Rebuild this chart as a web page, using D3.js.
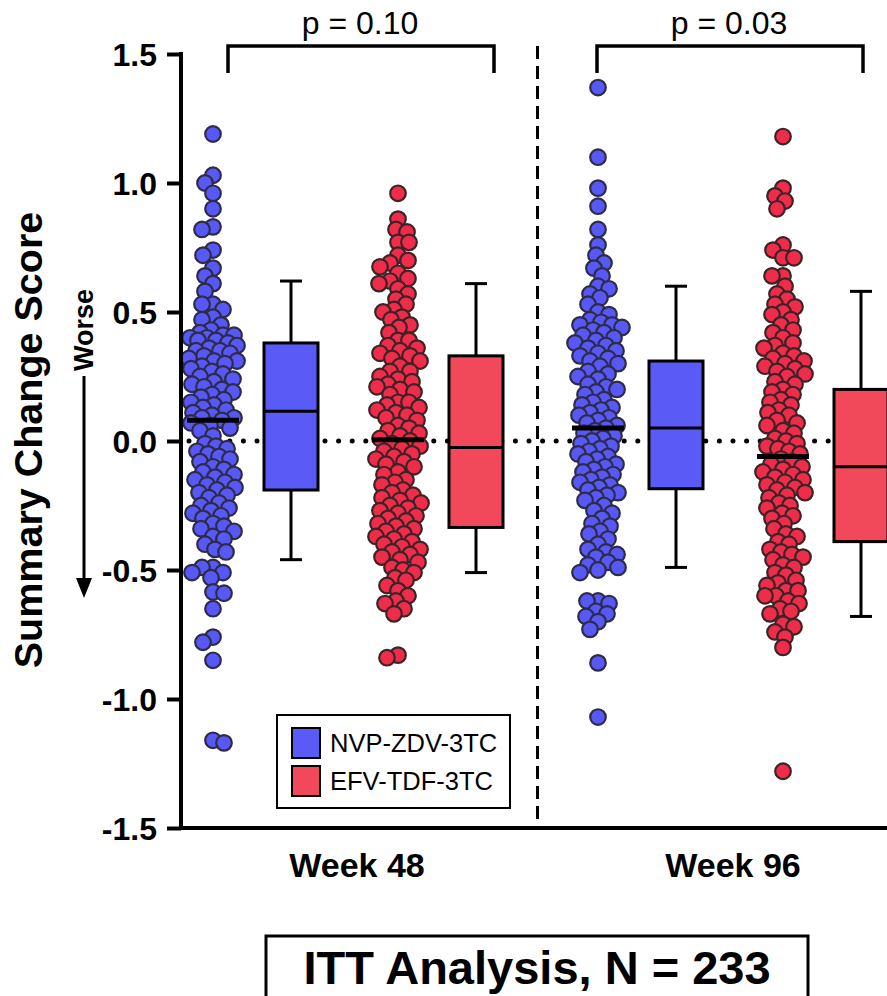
<!DOCTYPE html>
<html>
<head>
<meta charset="utf-8">
<script src="https://cdn.jsdelivr.net/npm/d3@7"></script>
<style>
  html, body { margin: 0; padding: 0; background: #fff; }
  svg { display: block; font-family: "Liberation Sans", Arial, sans-serif; }
</style>
</head>
<body>
<svg id="chart" width="887" height="996"></svg>
<script>
// Visits and treatment arms
const weeks = ["Week 48", "Week 96"];
const arms = ["NVP-ZDV-3TC", "EFV-TDF-3TC"];
const armColors = ["#5858f6", "#ef2d4b"];
const boxColors = ["#5a5af6", "#f2495a"];

// Individual summary change scores
const nvpWeek48 = [1.19, 1.03, 1.00, 0.96, 0.90, 0.83, 0.82, 0.74, 0.72, 0.67, 0.64, 0.61, 0.58, 0.53, 0.53, 0.51,
  0.48, 0.47, 0.45, 0.43, 0.42, 0.41, 0.41, 0.40, 0.40, 0.39, 0.39, 0.38, 0.37, 0.36, 0.35, 0.35, 0.34, 0.33,
  0.32, 0.31, 0.31, 0.30, 0.29, 0.28, 0.27, 0.26, 0.25, 0.24, 0.23, 0.22, 0.21, 0.20, 0.19, 0.18, 0.17, 0.16,
  0.15, 0.14, 0.13, 0.12, 0.11, 0.10, 0.09, 0.09, 0.08, 0.07, 0.06, 0.05, 0.04, 0.02, -0.01, -0.02, -0.03,
  -0.04, -0.05, -0.06, -0.07, -0.08, -0.10, -0.11, -0.12, -0.13, -0.14, -0.15, -0.16, -0.17, -0.18, -0.19,
  -0.20, -0.21, -0.22, -0.24, -0.25, -0.26, -0.27, -0.28, -0.29, -0.30, -0.32, -0.33, -0.34, -0.35, -0.37,
  -0.38, -0.40, -0.42, -0.43, -0.49, -0.49, -0.51, -0.51, -0.53, -0.585, -0.59, -0.65, -0.76, -0.78, -0.85,
  -1.16, -1.17];
const efvWeek48 = [0.96, 0.86, 0.82, 0.81, 0.77, 0.77, 0.72, 0.70, 0.69, 0.675, 0.65, 0.63, 0.62, 0.61, 0.59,
  0.57, 0.55, 0.53, 0.51, 0.50, 0.48, 0.47, 0.45, 0.44, 0.42, 0.39, 0.39, 0.37, 0.36, 0.35, 0.34, 0.33, 0.32,
  0.31, 0.29, 0.27, 0.27, 0.25, 0.24, 0.23, 0.22, 0.21, 0.20, 0.19, 0.18, 0.15, 0.15, 0.14, 0.13, 0.12, 0.11,
  0.10, 0.09, 0.08, 0.06, 0.05, 0.04, 0.03, 0.02, 0.01, 0.00, -0.01, -0.02, -0.03, -0.04, -0.05, -0.06,
  -0.07, -0.08, -0.09, -0.10, -0.12, -0.13, -0.15, -0.16, -0.17, -0.19, -0.20, -0.21, -0.22, -0.23, -0.24,
  -0.25, -0.26, -0.27, -0.28, -0.29, -0.30, -0.31, -0.32, -0.33, -0.34, -0.35, -0.36, -0.37, -0.38, -0.39,
  -0.40, -0.41, -0.42, -0.43, -0.44, -0.45, -0.46, -0.47, -0.49, -0.50, -0.51, -0.53, -0.54, -0.56, -0.58,
  -0.60, -0.62, -0.63, -0.65, -0.67, -0.83, -0.84];
const nvpWeek96 = [1.37, 1.10, 0.98, 0.91, 0.82, 0.76, 0.72, 0.69, 0.67, 0.64, 0.60, 0.59, 0.57, 0.555, 0.53,
  0.50, 0.49, 0.47, 0.46, 0.45, 0.45, 0.44, 0.43, 0.42, 0.41, 0.40, 0.39, 0.38, 0.37, 0.36, 0.35, 0.34, 0.33,
  0.32, 0.31, 0.30, 0.29, 0.27, 0.26, 0.25, 0.24, 0.22, 0.21, 0.20, 0.19, 0.18, 0.16, 0.15, 0.14, 0.13, 0.12,
  0.11, 0.10, 0.09, 0.08, 0.07, 0.06, 0.05, 0.04, 0.03, 0.02, 0.01, 0.00, -0.01, -0.02, -0.03, -0.04, -0.05,
  -0.06, -0.07, -0.08, -0.09, -0.10, -0.11, -0.12, -0.13, -0.14, -0.15, -0.16, -0.17, -0.18, -0.19, -0.20,
  -0.21, -0.22, -0.23, -0.25, -0.27, -0.28, -0.30, -0.32, -0.33, -0.35, -0.36, -0.38, -0.40, -0.42, -0.43,
  -0.44, -0.45, -0.47, -0.48, -0.49, -0.50, -0.51, -0.62, -0.62, -0.63, -0.66, -0.67, -0.68, -0.70, -0.73,
  -0.86, -1.07];
const efvWeek96 = [1.18, 0.98, 0.95, 0.93, 0.90, 0.76, 0.74, 0.71, 0.71, 0.64, 0.64, 0.60, 0.57, 0.55, 0.53,
  0.52, 0.50, 0.49, 0.47, 0.45, 0.43, 0.42, 0.40, 0.38, 0.37, 0.36, 0.34, 0.33, 0.32, 0.31, 0.30, 0.29, 0.28,
  0.27, 0.26, 0.25, 0.23, 0.22, 0.20, 0.19, 0.18, 0.16, 0.15, 0.14, 0.12, 0.11, 0.10, 0.08, 0.07, 0.06, 0.04,
  0.03, 0.01, 0.00, -0.01, -0.02, -0.03, -0.04, -0.05, -0.07, -0.08, -0.09, -0.10, -0.11, -0.12, -0.13,
  -0.14, -0.15, -0.16, -0.17, -0.18, -0.19, -0.20, -0.21, -0.22, -0.24, -0.25, -0.26, -0.28, -0.29, -0.30,
  -0.32, -0.34, -0.36, -0.37, -0.39, -0.40, -0.42, -0.43, -0.44, -0.45, -0.46, -0.48, -0.49, -0.51, -0.52,
  -0.54, -0.55, -0.56, -0.58, -0.58, -0.60, -0.60, -0.62, -0.63, -0.65, -0.66, -0.67, -0.71, -0.72, -0.74,
  -0.76, -0.80, -1.28];

// Group order: NVP wk48, EFV wk48, NVP wk96, EFV wk96
const groupValues = [nvpWeek48, efvWeek48, nvpWeek96, efvWeek96];
const scatterMedians = [0.08, 0.005, 0.05, -0.06];
const whiskerHigh = [0.62, 0.61, 0.60, 0.58];
const boxQ3 = [0.38, 0.33, 0.31, 0.20];
const boxMedian = [0.115, -0.025, 0.05, -0.10];
const boxQ1 = [-0.19, -0.335, -0.185, -0.39];
const whiskerLow = [-0.46, -0.51, -0.49, -0.68];
const pValueLabels = ["p = 0.10", "p = 0.03"];
const yTicks = [-1.5, -1.0, -0.5, 0.0, 0.5, 1.0, 1.5];

const svg = d3.select("#chart");
svg.append("rect").attr("width", 887).attr("height", 996).attr("fill", "#fff");

const plotLeft = 181, plotRight = 887, plotTop = 54, plotBottom = 828;
const y = d3.scaleLinear().domain([-1.5, 1.5]).range([plotBottom, plotTop]);

// Column placement: week -> arm -> (dots, box)
const xWeek = d3.scalePoint().domain(weeks).range([213, 598]);
const xArm = d3.scalePoint().domain(arms).range([0, 185]);
const xKind = d3.scalePoint().domain(["dots", "box"]).range([0, 78]);
const groups = [];
weeks.forEach((w, wi) => arms.forEach((a, ai) => {
  const gi = wi * 2 + ai;
  groups.push({
    week: w, arm: a, armIndex: ai, index: gi,
    values: groupValues[gi],
    dotsX: xWeek(w) + xArm(a) + xKind("dots"),
    boxX: xWeek(w) + xArm(a) + xKind("box")
  });
}));

const minusLocale = d3.formatLocale({decimal: ".", thousands: ",", grouping: [3], currency: ["", ""], minus: "-"});
const fmt = minusLocale.format(".1f");

// Zero reference line (dotted)
svg.append("line")
  .attr("x1", plotLeft + 8).attr("x2", plotRight)
  .attr("y1", y(0)).attr("y2", y(0))
  .attr("stroke", "#000").attr("stroke-width", 5)
  .attr("stroke-linecap", "round").attr("stroke-dasharray", "0 13.6");

// Divider between visits
const dividerX = (xWeek(weeks[0]) + xArm(arms[1]) + xKind("box") + xWeek(weeks[1])) / 2 + 0.5;
svg.append("line")
  .attr("x1", dividerX).attr("x2", dividerX)
  .attr("y1", 46).attr("y2", plotBottom)
  .attr("stroke", "#000").attr("stroke-width", 3)
  .attr("stroke-dasharray", "13 7");

// Beeswarm placement of the individual points
function swarm(vals, cx) {
  const sep = 10.5, maxOff = 24;
  const pts = vals.map(v => ({v, y: y(v)})).sort((a, b) => a.y - b.y);
  const placed = [];
  pts.forEach((p, i) => {
    const near = placed.filter(q => Math.abs(q.y - p.y) < sep);
    let best = cx, bestScore = -Infinity;
    outer:
    for (let k = 0; k <= maxOff; k++) {
      const offs = k === 0 ? [0] : (i % 2 ? [k, -k] : [-k, k]);
      for (const s of offs) {
        const x = cx + s;
        const dmin = near.reduce((m, q) => Math.min(m, Math.hypot(q.x - x, q.y - p.y)), Infinity);
        if (dmin >= sep) { best = x; break outer; }
        if (dmin > bestScore) { bestScore = dmin; best = x; }
      }
    }
    p.x = best;
    placed.push(p);
  });
  return placed;
}

const dotStroke = ["#2c2c48", "#3b2326"];
groups.forEach(g => {
  const pts = swarm(g.values, g.dotsX);
  svg.append("g").selectAll("circle").data(pts).join("circle")
    .attr("cx", d => d.x).attr("cy", d => d.y).attr("r", 7.8)
    .attr("fill", armColors[g.armIndex])
    .attr("stroke", dotStroke[g.armIndex]).attr("stroke-width", 2.2);
  // median bar across the points
  svg.append("line")
    .attr("x1", g.dotsX - 26).attr("x2", g.dotsX + 26)
    .attr("y1", y(scatterMedians[g.index])).attr("y2", y(scatterMedians[g.index]))
    .attr("stroke", "#000").attr("stroke-width", 5);
});

// Box plots
const boxW = 54, capW = 22;
groups.forEach(g => {
  const i = g.index, cx = g.boxX;
  const bg = svg.append("g").attr("stroke", "#000").attr("stroke-width", 3);
  bg.append("line").attr("x1", cx).attr("x2", cx).attr("y1", y(whiskerHigh[i])).attr("y2", y(boxQ3[i]));
  bg.append("line").attr("x1", cx).attr("x2", cx).attr("y1", y(boxQ1[i])).attr("y2", y(whiskerLow[i]));
  bg.append("line").attr("x1", cx - capW / 2).attr("x2", cx + capW / 2).attr("y1", y(whiskerHigh[i])).attr("y2", y(whiskerHigh[i]));
  bg.append("line").attr("x1", cx - capW / 2).attr("x2", cx + capW / 2).attr("y1", y(whiskerLow[i])).attr("y2", y(whiskerLow[i]));
  bg.append("rect")
    .attr("x", cx - boxW / 2).attr("width", boxW)
    .attr("y", y(boxQ3[i])).attr("height", y(boxQ1[i]) - y(boxQ3[i]))
    .attr("fill", boxColors[g.armIndex]);
  bg.append("line").attr("x1", cx - boxW / 2).attr("x2", cx + boxW / 2)
    .attr("y1", y(boxMedian[i])).attr("y2", y(boxMedian[i]));
});

// Y axis
const yAxis = d3.axisLeft(y).tickValues(yTicks).tickFormat(fmt)
  .tickSize(14).tickSizeOuter(0).tickPadding(10);
const ag = svg.append("g").attr("transform", `translate(${plotLeft},0)`).call(yAxis);
ag.select(".domain").attr("stroke-width", 4).attr("d", `M0,${plotTop - 2}V${plotBottom + 2}`);
ag.selectAll(".tick line").attr("stroke-width", 4);
ag.selectAll(".tick text")
  .attr("font-family", "'Liberation Sans', Arial, sans-serif")
  .attr("font-size", 32).attr("font-weight", "bold").attr("fill", "#000")
  .attr("dy", "0.36em");

// X axis baseline
svg.append("line")
  .attr("x1", plotLeft - 2).attr("x2", plotRight)
  .attr("y1", plotBottom).attr("y2", plotBottom)
  .attr("stroke", "#000").attr("stroke-width", 4);

// Visit labels
weeks.forEach((w, wi) => {
  svg.append("text")
    .attr("x", xWeek(w) + [144, 135][wi]).attr("y", 877)
    .attr("text-anchor", "middle")
    .attr("font-size", 34).attr("font-weight", "bold")
    .text(w);
});

// Significance brackets
weeks.forEach((w, wi) => {
  const x1 = xWeek(w) + [15, -1][wi];
  const x2 = xWeek(w) + xArm(arms[1]) + xKind("box") + [18, 2][wi];
  svg.append("path")
    .attr("d", `M${x1},73V46H${x2}V73`)
    .attr("fill", "none").attr("stroke", "#000").attr("stroke-width", 3.5);
  svg.append("text")
    .attr("x", (x1 + x2) / 2 - 1).attr("y", 34)
    .attr("text-anchor", "middle")
    .attr("font-size", 32)
    .text(pValueLabels[wi]);
});

// Y axis title and direction cue
svg.append("text")
  .attr("transform", "translate(42,440) rotate(-90)")
  .attr("text-anchor", "middle")
  .attr("font-size", 39.5).attr("font-weight", "bold")
  .text("Summary Change Score");
svg.append("text")
  .attr("transform", "translate(93,330) rotate(-90)")
  .attr("text-anchor", "middle")
  .attr("font-size", 27).attr("font-weight", "bold")
  .text("Worse");
svg.append("line")
  .attr("x1", 84).attr("x2", 84).attr("y1", 376).attr("y2", 582)
  .attr("stroke", "#000").attr("stroke-width", 3);
svg.append("path")
  .attr("d", "M76,578L92,578L84,598Z").attr("fill", "#000");

// Legend
const lg = svg.append("g");
lg.append("rect").attr("x", 277).attr("y", 715).attr("width", 233).attr("height", 93)
  .attr("fill", "#fff").attr("stroke", "#000").attr("stroke-width", 2);
arms.forEach((a, ai) => {
  lg.append("rect")
    .attr("x", 292).attr("y", 728 + ai * 38).attr("width", 28).attr("height", 30)
    .attr("fill", boxColors[ai]).attr("stroke", "#000").attr("stroke-width", 2);
  lg.append("text")
    .attr("x", 330).attr("y", 752 + ai * 38)
    .attr("font-size", 25.5)
    .text(a);
});

// Analysis population caption
svg.append("rect").attr("x", 266).attr("y", 936).attr("width", 542).attr("height", 80)
  .attr("fill", "#fff").attr("stroke", "#000").attr("stroke-width", 3);
svg.append("text")
  .attr("x", 537).attr("y", 984)
  .attr("text-anchor", "middle")
  .attr("font-size", 47).attr("font-weight", "bold")
  .text("ITT Analysis, N = 233");
</script>
</body>
</html>
